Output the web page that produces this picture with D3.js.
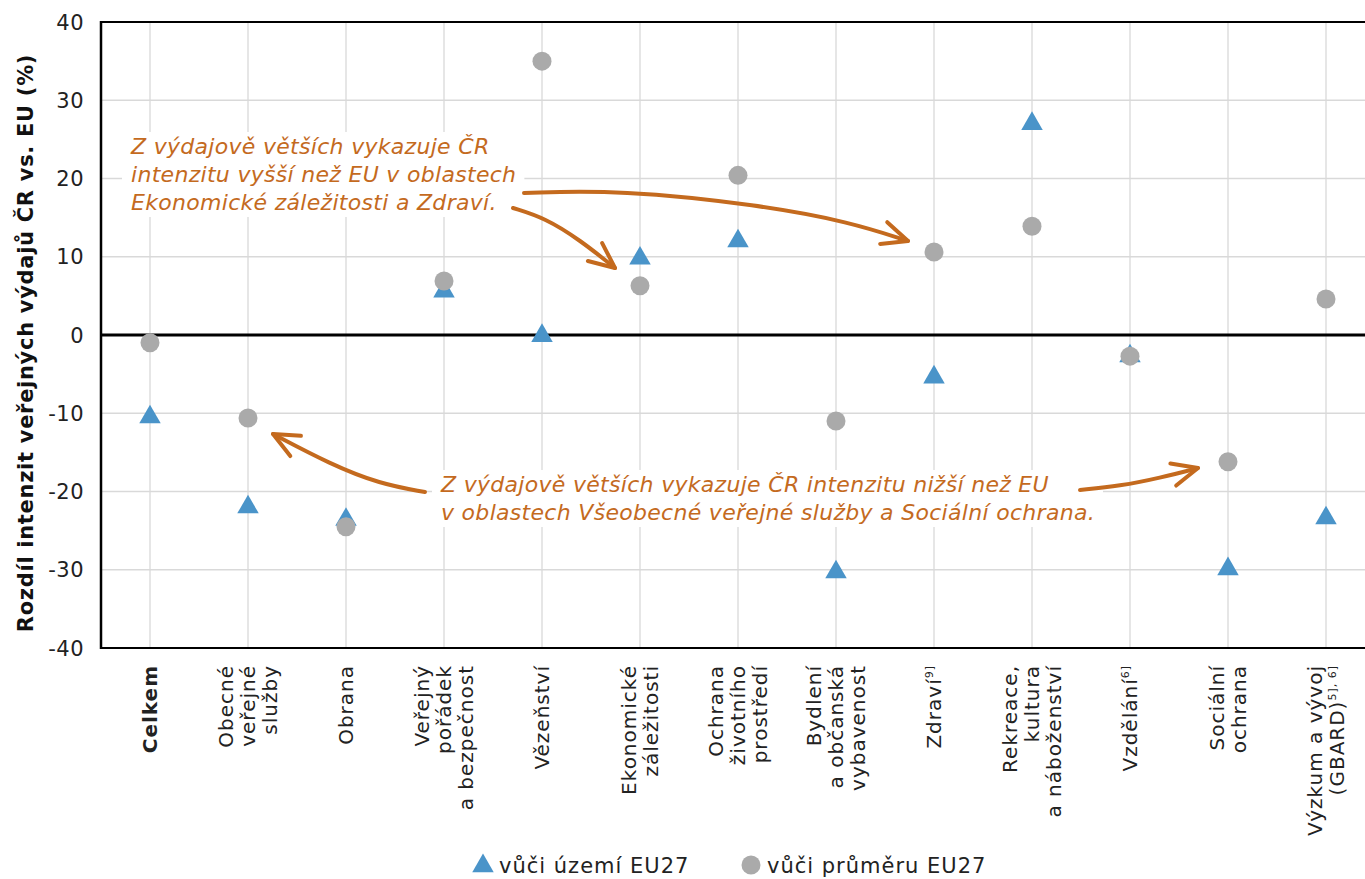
<!DOCTYPE html>
<html lang="cs">
<head>
  <meta charset="UTF-8">
  <title>Rozdíl intenzit výdajů</title>
  <script src="https://d3js.org/d3.v7.min.js"></script>
  <style>
    body { margin: 0; background: white; font-family: "DejaVu Sans", "Noto Sans", sans-serif; }
    .grid line { stroke: #d9d9d9; stroke-width: 1.3px; }
    .tick-y { font-size: 21px; fill: #222; letter-spacing: 0.5px; }
    .xlab { font-size: 20px; fill: #222; letter-spacing: 1px; }
    .note { font-family: "DejaVu Sans", sans-serif; font-style: oblique; font-size: 22px; fill: #c46a1e; letter-spacing: 0.3px; }
    .arrow { fill: none; stroke: #c46a1e; stroke-linecap: round; stroke-linejoin: round; }
  </style>
</head>
<body>
<svg id="svg" width="1365" height="879"></svg>
<script>
// categories (label lines, bold flag, superscript)
const categories = [
  {lines: ["Celkem"], bold: true},
  {lines: ["Obecné", "veřejné", "služby"]},
  {lines: ["Obrana"]},
  {lines: ["Veřejný", "pořádek", "a bezpečnost"]},
  {lines: ["Vězeňství"]},
  {lines: ["Ekonomické", "záležitosti"]},
  {lines: ["Ochrana", "životního", "prostředí"]},
  {lines: ["Bydlení", "a občanská", "vybavenost"]},
  {lines: ["Zdraví"], sup: "9]"},
  {lines: ["Rekreace,", "kultura", "a náboženství"]},
  {lines: ["Vzdělání"], sup: "6]"},
  {lines: ["Sociální", "ochrana"]},
  {lines: ["Výzkum a vývoj", "(GBARD)"], sup: "5], 6]"}
];
// vůči území EU27 (triangles)
const territoryEU = [-10.5, -22.0, -23.6, 5.6, -0.1, 9.8, 12.0, -30.3, -5.4, 27.0, -2.7, -29.9, -23.4];
// vůči průměru EU27 (circles)
const averageEU = [-1.0, -10.6, -24.5, 6.9, 35.0, 6.3, 20.4, -11.0, 10.6, 13.9, -2.7, -16.2, 4.6];
const yTicks = [-40, -30, -20, -10, 0, 10, 20, 30, 40];

const triColor = "#4a94c9";
const dotColor = "#aaaaaa";

const plotL = 101, plotR = 1375, plotT = 22, plotB = 648;
const svg = d3.select("#svg");

const x = d3.scaleBand().domain(d3.range(categories.length)).range([plotL, plotR]);
const y = d3.scaleLinear().domain([-40, 40]).range([plotB, plotT]);
const cx = i => x(i) + x.bandwidth() / 2;

// grid
const grid = svg.append("g").attr("class", "grid");
grid.selectAll(".gy").data(yTicks).join("line")
  .attr("x1", plotL).attr("x2", 1365)
  .attr("y1", d => y(d)).attr("y2", d => y(d));
grid.selectAll(".gx").data(categories).join("line")
  .attr("x1", (d, i) => cx(i)).attr("x2", (d, i) => cx(i))
  .attr("y1", plotT).attr("y2", plotB);

// frame + zero line
svg.append("line").attr("x1", plotL).attr("x2", 1365).attr("y1", plotT).attr("y2", plotT).attr("stroke", "#000").attr("stroke-width", 2);
svg.append("line").attr("x1", plotL).attr("x2", 1365).attr("y1", plotB).attr("y2", plotB).attr("stroke", "#000").attr("stroke-width", 2);
svg.append("line").attr("x1", plotL).attr("x2", plotL).attr("y1", plotT - 1).attr("y2", plotB + 1).attr("stroke", "#000").attr("stroke-width", 2.5);
svg.append("line").attr("x1", plotL).attr("x2", 1365).attr("y1", y(0)).attr("y2", y(0)).attr("stroke", "#000").attr("stroke-width", 3);

// y tick labels
svg.selectAll(".tick-y").data(yTicks).join("text")
  .attr("class", "tick-y")
  .attr("x", 84).attr("y", d => y(d))
  .attr("dy", "0.36em")
  .attr("text-anchor", "end")
  .text(d => d);

// y axis title
svg.append("text")
  .attr("transform", `translate(33,${(plotT + plotB) / 2 + 8}) rotate(-90)`)
  .attr("text-anchor", "middle")
  .attr("font-size", 21).attr("font-weight", "bold").attr("fill", "#111")
  .attr("letter-spacing", 0.7)
  .text("Rozdíl intenzit veřejných výdajů ČR vs. EU (%)");

// x labels
const lineH = 22;
categories.forEach((c, i) => {
  const n = c.lines.length;
  c.lines.forEach((ln, k) => {
    const off = (k - (n - 1) / 2) * lineH;
    const t = svg.append("text")
      .attr("class", "xlab")
      .attr("transform", `translate(${cx(i) + off + 7},665) rotate(-90)`)
      .attr("text-anchor", "end")
      .attr("font-weight", c.bold ? "bold" : null)
      .text(ln);
    if (c.sup && k === n - 1) {
      t.append("tspan").attr("font-size", 11).attr("dy", -8).text(c.sup);
    }
  });
});

// annotation text boxes (white background)
function note(lines, x0, y0, lh) {
  const g = svg.append("g");
  const txt = g.append("text").attr("class", "note");
  lines.forEach((l, k) => txt.append("tspan").attr("x", x0).attr("y", y0 + k * lh).text(l));
  const b = txt.node().getBBox();
  g.insert("rect", "text").attr("x", b.x - 8).attr("y", b.y - 2)
    .attr("width", b.width + 16).attr("height", b.height + 4).attr("fill", "white");
}
note(["Z výdajově větších vykazuje ČR", "intenzitu vyšší než EU v oblastech", "Ekonomické záležitosti a Zdraví."], 131, 154, 28);
note(["Z výdajově větších vykazuje ČR intenzitu nižší než EU", "v oblastech Všeobecné veřejné služby a Sociální ochrana."], 441, 492, 28);

// arrows
function arrow(pts) {
  const line = d3.line().curve(d3.curveBasis);
  svg.append("path").attr("class", "arrow").attr("stroke-width", 4).attr("d", line(pts));
  const p1 = pts[pts.length - 1], p0 = pts[pts.length - 2];
  const ang = Math.atan2(p1[1] - p0[1], p1[0] - p0[0]);
  const L = 28, a = 0.42;
  const h1 = [p1[0] - L * Math.cos(ang - a), p1[1] - L * Math.sin(ang - a)];
  const h2 = [p1[0] - L * Math.cos(ang + a), p1[1] - L * Math.sin(ang + a)];
  svg.append("path").attr("class", "arrow").attr("stroke-width", 4)
    .attr("d", `M${h1}L${p1}L${h2}`);
}
arrow([[524, 193], [620, 190], [760, 205], [850, 222], [908, 241]]);
arrow([[513, 208], [545, 218], [580, 240], [615, 268]]);
arrow([[425, 492], [380, 484], [330, 464], [273, 434]]);
arrow([[1080, 490], [1120, 486], [1160, 478], [1198, 468]]);

// markers
const sym = d3.symbol().type(d3.symbolTriangle).size(200);
svg.selectAll(".tri").data(territoryEU).join("path")
  .attr("class", "tri")
  .attr("d", sym)
  .attr("fill", triColor)
  .attr("transform", (d, i) => `translate(${cx(i)},${y(d)})`);
svg.selectAll(".dot").data(averageEU).join("circle")
  .attr("class", "dot")
  .attr("r", 9.5)
  .attr("fill", dotColor)
  .attr("cx", (d, i) => cx(i))
  .attr("cy", d => y(d));

// legend
const lg = svg.append("g").attr("font-size", 21).attr("fill", "#222").attr("letter-spacing", 1);
lg.append("path").attr("d", sym).attr("fill", triColor).attr("transform", "translate(483,866)");
lg.append("text").attr("x", 499).attr("y", 873).text("vůči území EU27");
lg.append("circle").attr("cx", 751).attr("cy", 865).attr("r", 9.5).attr("fill", dotColor);
lg.append("text").attr("x", 767).attr("y", 873).text("vůči průměru EU27");
</script>
</body>
</html>
